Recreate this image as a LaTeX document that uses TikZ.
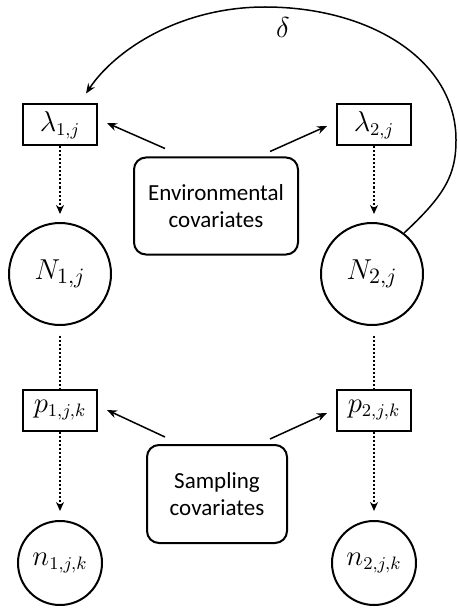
\documentclass[tikz,border=0pt]{standalone}
\usepackage{fontspec}
\setmainfont{Carlito}
\usepackage{amsmath}
\usepackage{tikz}
\usetikzlibrary{calc,arrows.meta}
\tikzstyle{parbox}=[rectangle,draw=black,line width=1pt,fill=white,
                    minimum width=37pt,minimum height=20.5pt,inner sep=0pt,
                    font=\fontsize{13.5}{15}\selectfont]
\tikzstyle{covbox}=[rectangle,rounded corners=6pt,draw=black,line width=1pt,
                    align=center,inner sep=0pt,font=\fontsize{11.5}{13.5}\selectfont]
\tikzstyle{bigstate}=[circle,draw=black,line width=1pt,minimum size=51pt,
                      inner sep=0pt,font=\fontsize{15}{17}\selectfont]
\tikzstyle{smallstate}=[circle,draw=black,line width=1pt,minimum size=42pt,
                        inner sep=0pt,font=\fontsize{13.5}{15}\selectfont]
\tikzstyle{effect}=[-{Stealth[length=5pt,width=4pt]},line width=0.75pt]
\tikzstyle{flow}=[densely dotted,line width=1pt]
\newcommand\leftcol{60}
\newcommand\rightcol{374}

\begin{document}
\begin{tikzpicture}[x=0.5pt,y=-0.5pt]
	\useasboundingbox (0,0) rectangle (458,609);
	% top row
	\node [parbox] (lam1) at ($(\leftcol,125)$) {$\lambda_{1,j}$};
	\node [parbox] (lam2) at ($(\rightcol,125)$) {$\lambda_{2,j}$};
	\node [covbox,minimum width=82pt,minimum height=48.5pt] (env) at (216,206) {Environmental\\covariates};
	\node [bigstate] (N1) at ($(\leftcol,274)$) {$N_{1,j}$};
	\node [bigstate] (N2) at ($(\rightcol-2,274)$) {$N_{2,j}$};
	% bottom row
	\node [parbox] (p1) at ($(\leftcol,410)$) {$p_{1,j,k}$};
	\node [parbox] (p2) at ($(\rightcol,410)$) {$p_{2,j,k}$};
	\node [covbox,minimum width=70pt,minimum height=49pt] (samp) at (217,494) {Sampling\\covariates};
	\node [smallstate] (n1) at ($(\leftcol,563)$) {$n_{1,j,k}$};
	\node [smallstate] (n2) at ($(\rightcol,563)$) {$n_{2,j,k}$};
	\node [font=\fontsize{13.5}{15}\selectfont] (delta) at (283,28) {$\delta$};

	\draw [effect] ($(env.north)+(-51,-8)$) -- ($(lam1.east)+(9,-2)$);
	\draw [effect] ($(env.north)+(54,-5)$) -- ($(lam2.west)+(-9,1)$);
	\draw [effect] ($(samp.north)+(-52,-7)$) -- ($(p1.east)+(9,0)$);
	\draw [effect] ($(samp.north)+(53,-5)$) -- ($(p2.west)+(-9,3)$);

	\draw [flow,-{Stealth[length=4.5pt,width=4pt]},shorten >=4pt] (lam1.south) -- (N1.north);
	\draw [flow,-{Stealth[length=4.5pt,width=4pt]},shorten >=4pt] (lam2.south) -- (lam2.south |- N2.north);
	\draw [flow,shorten <=5pt] (N1.south) -- (p1.north);
	\draw [flow,shorten <=5pt] (p2.north |- N2.south) -- (p2.north);
	\draw [flow,-{Stealth[length=4.5pt,width=4pt]},shorten >=4.5pt] (p1.south) -- (n1.north);
	\draw [flow,-{Stealth[length=4.5pt,width=4pt]},shorten >=4.5pt] (p2.south) -- (n2.north);

	\draw [effect] (N2.52) .. controls (445,195) and (456,175) .. (456,140)
		.. controls (456,60) and (370,7) .. (265,7)
		.. controls (180,7) and (115,50) .. ($(lam1.north east)+(-12,-10)$);
\end{tikzpicture}
\end{document}
